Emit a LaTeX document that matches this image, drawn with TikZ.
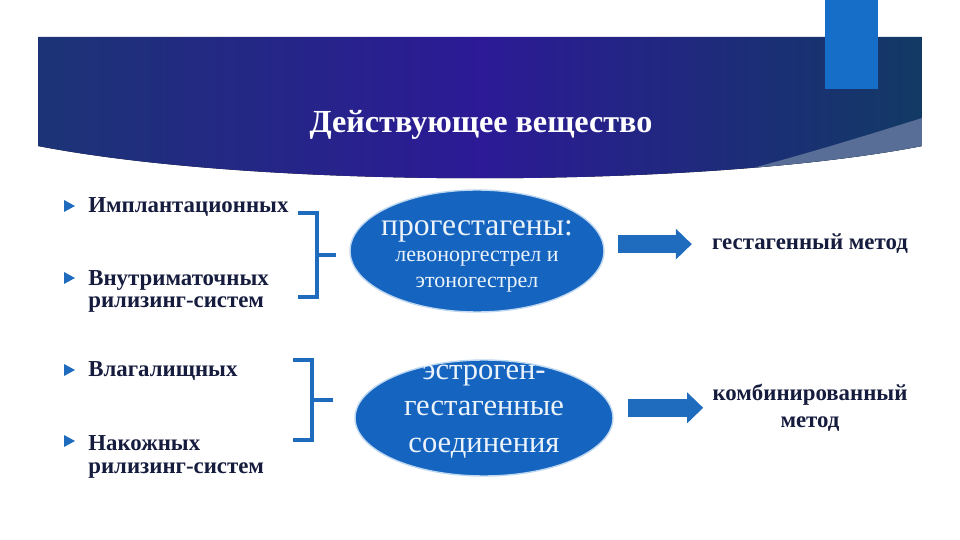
\documentclass[tikz,border=0pt]{standalone}
\usepackage{fontspec}
\setmainfont{Liberation Serif}
\usetikzlibrary{positioning, shapes.geometric, arrows.meta}
\definecolor{bandL}{RGB}{28,52,118}
\definecolor{bandM}{RGB}{44,26,150}
\definecolor{bandR}{RGB}{18,58,100}
\definecolor{swoosh}{RGB}{88,110,150}
\definecolor{tab}{RGB}{22,110,200}
\definecolor{ink}{RGB}{22,28,62}
\definecolor{oval}{RGB}{21,101,192}
\definecolor{ovalrim}{RGB}{190,215,240}
\definecolor{brk}{RGB}{31,108,190}

\begin{document}
\begin{tikzpicture}[x=0.02cm, y=-0.02cm,
        item/.style={anchor=base west, align=left, inner sep=0pt, text=ink,
            font=\fontsize{13}{13}\selectfont\bfseries},
        oval/.style={ellipse, fill=oval, draw=ovalrim, line width=0.8pt, inner sep=0pt},
        ovaltext/.style={anchor=base, align=center, inner sep=0pt, text=white!92!oval},
        result/.style={anchor=base, align=center, inner sep=0pt, text=ink,
            font=\fontsize{13}{14.8}\selectfont\bfseries},
        bracket/.style={draw=brk, line width=2.3pt},
        blockarr/.style={draw=brk, line width=10.2pt,
            -{Triangle[length=9.1pt, width=17pt, fill=brk]}}]
        \useasboundingbox (0,0) rectangle (960,540);

        \begin{scope}
            \clip (38,37) -- (922,37) -- (922,146) .. controls (700,189) and (260,189) .. (38,146) -- cycle;
            \fill[left color=bandL, right color=bandR, middle color=bandM] (38,37) rectangle (922,200);
            \fill[swoosh] (922,118) .. controls (820,150) and (720,180) .. (620,198) -- (922,200) -- cycle;
        \end{scope}
        \fill[tab] (825,0) rectangle (878,89);
        \node[anchor=base, inner sep=0pt, text=white, font=\fontsize{18.3}{18}\selectfont\bfseries]
            (title) at (481,133) {Действующее вещество};

        \node[item] (impl) at (88,213) {Имплантационных};
        \node[item] (intra) at (88,308) {Внутриматочных\\рилизинг-систем};
        \node[item] (vag) at (88,377) {Влагалищных};
        \node[item] (skin) at (88,473) {Накожных\\рилизинг-систем};
        \foreach \y in {213, 285, 377, 448}
            \fill[brk] (64,\y) ++(0,-1) -- ++(0,-12) -- ++(11,6) -- cycle;

        \draw[bracket] (298,213) -- (317,213) -- (317,297) -- (298,297)
            (317,255) -- (336,255);
        \draw[bracket] (293,360) -- (312,360) -- (312,440) -- (293,440)
            (312,400) -- (333,400);

        \node[oval, minimum width=5.08cm, minimum height=2.44cm] (prog) at (477,251) {};
        \node[ovaltext, font=\fontsize{12.5}{15}\selectfont] (progtext) at (prog |- 0,288)
            {{\fontsize{18}{15}\selectfont прогестагены:}\\левоноргестрел и\\этоногестрел};
        \node[oval, minimum width=5.16cm, minimum height=2.32cm] (combo) at (484,418) {};
        \node[ovaltext, font=\fontsize{17.4}{20.5}\selectfont] (combotext) at (combo |- 0,452)
            {эстроген-\\гестагенные\\соединения};

        \node[result] (gest) at (810,250) {гестагенный метод};
        \node[result] (comb) at (810,427) {комбинированный\\метод};

        \draw[blockarr, shorten <=13*0.02cm, shorten >=20*0.02cm] (prog.east |- gest.west) -- (gest.west);
        \draw[blockarr, shorten <=14*0.02cm, shorten >=9*0.02cm] (combo.east |- comb.west) -- (comb.west);
\end{tikzpicture}
\end{document}
